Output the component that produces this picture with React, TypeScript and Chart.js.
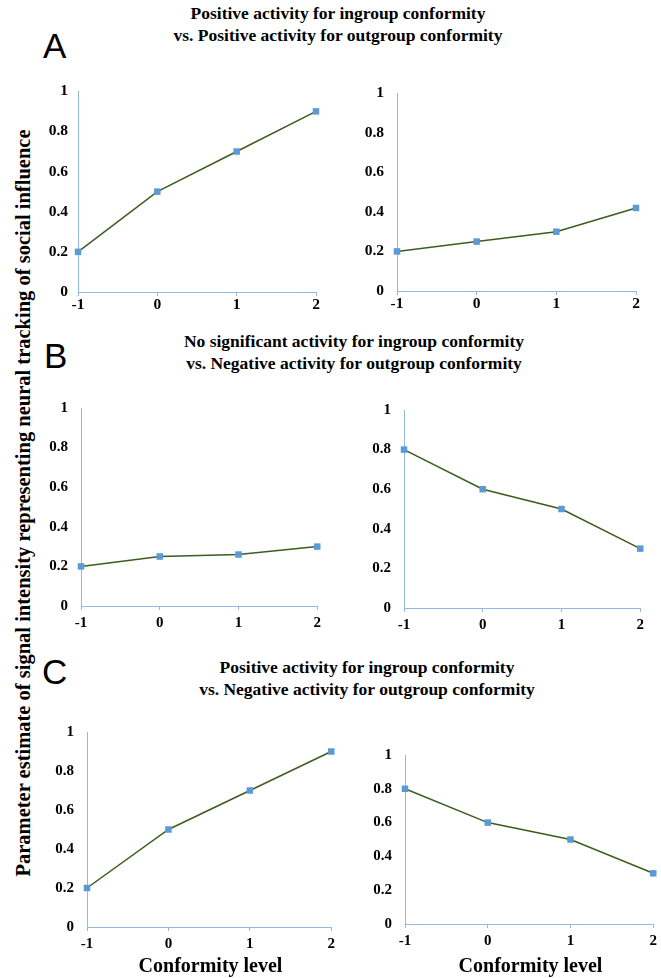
import React, { useEffect, useRef } from "react";
import { Chart, registerables } from "chart.js";

Chart.register(...registerables);

// ---- data ----
const conformityLevels = [-1, 0, 1, 2];
const xTickLabels = ["-1", "0", "1", "2"];
const yTickLabels = ["0", "0.2", "0.4", "0.6", "0.8", "1"];

const aLeftValues = [0.2, 0.5, 0.7, 0.9];
const aRightValues = [0.2, 0.25, 0.3, 0.42];
const bLeftValues = [0.2, 0.25, 0.26, 0.3];
const bRightValues = [0.8, 0.6, 0.5, 0.3];
const cLeftValues = [0.2, 0.5, 0.7, 0.9];
const cRightValues = [0.8, 0.6, 0.5, 0.3];

const rowTitlesA = ["Positive activity for ingroup conformity", "vs. Positive activity for outgroup conformity"];
const rowTitlesB = ["No significant activity for ingroup conformity", "vs. Negative activity for outgroup conformity"];
const rowTitlesC = ["Positive activity for ingroup conformity", "vs. Negative activity for outgroup conformity"];
const yAxisTitle = "Parameter estimate of signal intensity representing neural tracking of social influence";
const xAxisTitle = "Conformity level";

// ---- styles ----
const SERIF = '"Liberation Serif", "Times New Roman", serif';
const SANS = '"Liberation Sans", Arial, sans-serif';
const lineColor = "#3d5c1f";
const markerColor = "#5b9bd5";
const axisColor = "#95b8e0";

type Panel = {
  values: number[];
  L: number; R: number; T: number; B: number;
  fs: number; yPad: number; xPad: number; xTitle?: boolean;
};

const panels: Panel[] = [
  { values: aLeftValues, L: 78, R: 316, T: 82, B: 292, fs: 15.5, yPad: 10, xPad: 0 },
  { values: aRightValues, L: 397, R: 636, T: 81, B: 291, fs: 15.5, yPad: 13, xPad: 0 },
  { values: bLeftValues, L: 81, R: 320, T: 396, B: 606, fs: 15, yPad: 13, xPad: 4 },
  { values: bRightValues, L: 404, R: 643, T: 398, B: 608, fs: 15, yPad: 13, xPad: 4 },
  { values: cLeftValues, L: 87, R: 334, T: 720, B: 927, fs: 15, yPad: 13, xPad: 4, xTitle: true },
  { values: cRightValues, L: 405, R: 656, T: 743, B: 924, fs: 15, yPad: 13, xPad: 4, xTitle: true },
];

const Y_W = 48;
const X_H = 28;
const PAD_T = 10;
const PAD_R = 5;

function PanelChart({ p }: { p: Panel }) {
  const ref = useRef<HTMLCanvasElement | null>(null);
  const w = p.R - p.L + Y_W + PAD_R;
  const h = p.B - p.T + PAD_T + X_H;
  useEffect(() => {
    if (!ref.current) return;
    const chart = new Chart(ref.current, {
      type: "line",
      data: {
        datasets: [
          {
            data: conformityLevels.map((x, i) => ({ x, y: p.values[i] })),
            borderColor: lineColor,
            borderWidth: 1.5,
            pointStyle: "rect",
            pointRadius: 4.6,
            pointBackgroundColor: markerColor,
            pointBorderWidth: 0,
            pointBorderColor: markerColor,
            clip: false as any,
            tension: 0,
          },
        ],
      },
      options: {
        responsive: false,
        animation: false,
        events: [],
        layout: { padding: { top: PAD_T, right: PAD_R, left: 0, bottom: 0 } },
        plugins: { legend: { display: false }, tooltip: { enabled: false } },
        scales: {
          x: {
            type: "linear",
            min: -1,
            max: 2,
            offset: false,
            border: { display: true, color: axisColor, width: 1 },
            grid: { drawOnChartArea: false, drawTicks: true, tickLength: 4, color: axisColor },
            ticks: {
              stepSize: 1,
              padding: p.xPad,
              color: "#000",
              font: { family: SERIF, size: p.fs, weight: "bold" },
              maxRotation: 0,
              callback: (_v: any, i: number) => xTickLabels[i],
            },
            afterFit: (s: any) => {
              s.height = X_H;
            },
          },
          y: {
            min: 0,
            max: 1,
            border: { display: true, color: axisColor, width: 1 },
            grid: { drawOnChartArea: false, drawTicks: false, color: axisColor },
            ticks: {
              stepSize: 0.2,
              padding: p.yPad,
              color: "#000",
              font: { family: SERIF, size: p.fs, weight: "bold" },
              callback: (_v: any, i: number) => yTickLabels[i],
            },
            afterFit: (s: any) => {
              s.width = Y_W;
            },
          },
        },
      } as any,
    });
    return () => chart.destroy();
  }, []);
  return (
    <>
      <canvas
        ref={ref}
        width={w}
        height={h}
        style={{ position: "absolute", left: p.L - Y_W, top: p.T - PAD_T, width: w, height: h }}
      />
      {p.xTitle && (
        <div
          style={{
            position: "absolute",
            left: (p.L + p.R) / 2 - 120,
            width: 240,
            top: 953,
            lineHeight: "24px",
            textAlign: "center",
            fontFamily: SERIF,
            fontWeight: "bold",
            fontSize: 20,
            whiteSpace: "nowrap",
          }}
        >
          {xAxisTitle}
        </div>
      )}
    </>
  );
}

function RowTitle({ lines, cx, top }: { lines: string[]; cx: number; top: number }) {
  return (
    <div
      style={{
        position: "absolute",
        left: cx - 250,
        width: 500,
        top,
        textAlign: "center",
        fontFamily: SERIF,
        fontWeight: "bold",
        fontSize: 17.5,
        lineHeight: "22px",
        whiteSpace: "nowrap",
      }}
    >
      {lines.map((l, i) => (
        <div key={i}>{l}</div>
      ))}
    </div>
  );
}

function Letter({ ch, left, top }: { ch: string; left: number; top: number }) {
  return (
    <div
      style={{
        position: "absolute",
        left,
        top,
        fontFamily: SANS,
        fontSize: 35,
        lineHeight: "35px",
      }}
    >
      {ch}
    </div>
  );
}

export default function App() {
  return (
    <div style={{ position: "absolute", left: 0, top: 0, width: 661, height: 978, background: "#fff", overflow: "hidden" }}>
      <RowTitle lines={rowTitlesA} cx={338} top={2} />
      <RowTitle lines={rowTitlesB} cx={354} top={330} />
      <RowTitle lines={rowTitlesC} cx={367} top={656} />
      <Letter ch="A" left={43} top={28} />
      <Letter ch="B" left={44} top={338} />
      <Letter ch="C" left={42} top={654} />
      <div
        style={{
          position: "absolute",
          left: 23 - 400,
          top: 503 - 13,
          width: 800,
          height: 26,
          lineHeight: "26px",
          textAlign: "center",
          fontFamily: SERIF,
          fontWeight: "bold",
          fontSize: 20.5,
          whiteSpace: "nowrap",
          transform: "rotate(-90deg)",
        }}
      >
        {yAxisTitle}
      </div>
      {panels.map((p, i) => (
        <PanelChart key={i} p={p} />
      ))}
    </div>
  );
}
